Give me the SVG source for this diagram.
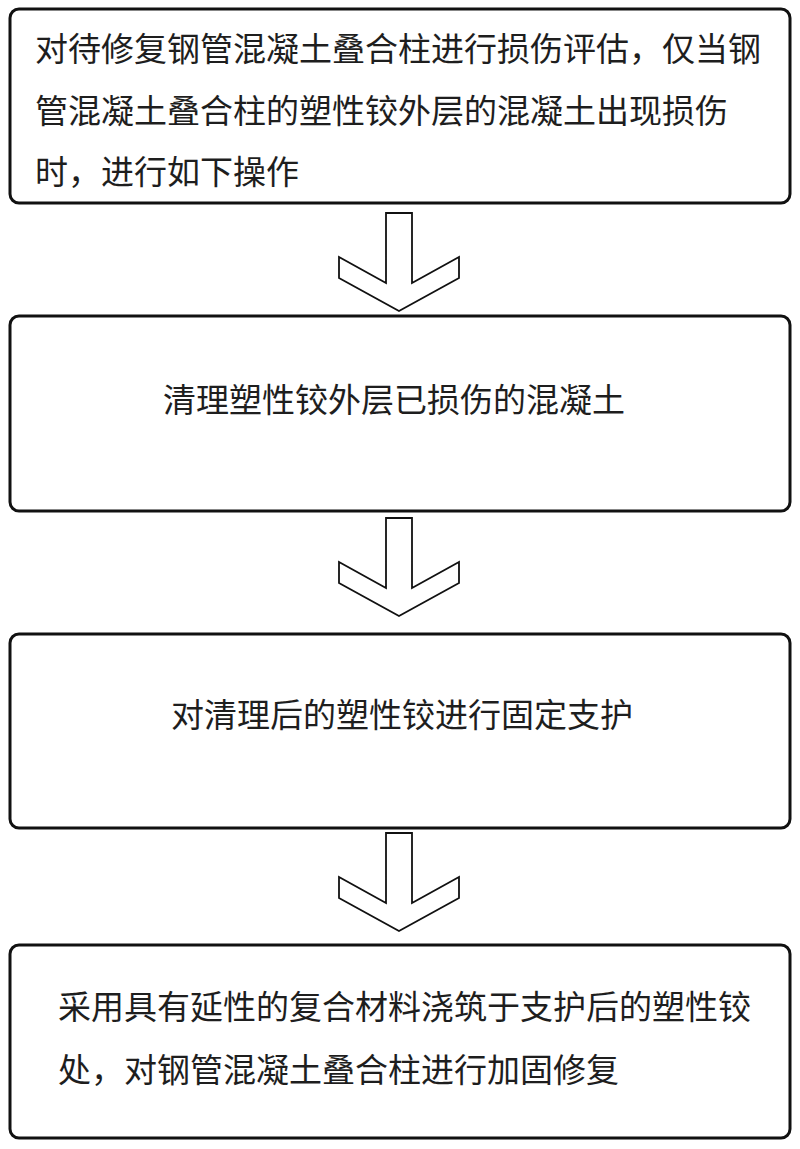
<svg xmlns="http://www.w3.org/2000/svg" width="800" height="1149" viewBox="0 0 800 1149">
  <style>
    .box { fill: #ffffff; stroke: #111111; stroke-width: 3; }
    .arrow { fill: #ffffff; stroke: #111111; stroke-width: 1.8; stroke-linejoin: miter; }
    .t { font-family: "Noto Sans CJK SC", "Noto Sans", sans-serif; font-size: 33px; fill: #1e1e1e; }
  </style>
  <rect width="800" height="1149" fill="#ffffff"/>
  <g id="connectors">
    <path class="arrow" d="M386,213 L412,213 L412,283 L459,257 L459,278 L399,311 L339,278 L339,257 L386,283 Z"/>
    <path class="arrow" d="M386,518 L412,518 L412,588 L459,562 L459,583 L399,616 L339,583 L339,562 L386,588 Z"/>
    <path class="arrow" d="M386,833 L412,833 L412,903 L459,877 L459,898 L399,931 L339,898 L339,877 L386,903 Z"/>
  </g>
  <g id="node1">
    <rect class="box" x="10" y="9" width="780" height="194" rx="9"/>
    <text class="t" x="35" y="61">对待修复钢管混凝土叠合柱进行损伤评估，仅当钢</text>
    <text class="t" x="35" y="123">管混凝土叠合柱的塑性铰外层的混凝土出现损伤</text>
    <text class="t" x="35" y="184">时，进行如下操作</text>
  </g>
  <g id="node2">
    <rect class="box" x="10" y="316" width="780" height="195" rx="9"/>
    <text class="t" x="163" y="412">清理塑性铰外层已损伤的混凝土</text>
  </g>
  <g id="node3">
    <rect class="box" x="10" y="634" width="780" height="194" rx="9"/>
    <text class="t" x="171" y="727">对清理后的塑性铰进行固定支护</text>
  </g>
  <g id="node4">
    <rect class="box" x="10" y="945" width="780" height="193" rx="9"/>
    <text class="t" x="58" y="1019">采用具有延性的复合材料浇筑于支护后的塑性铰</text>
    <text class="t" x="58" y="1082">处，对钢管混凝土叠合柱进行加固修复</text>
  </g>
</svg>
